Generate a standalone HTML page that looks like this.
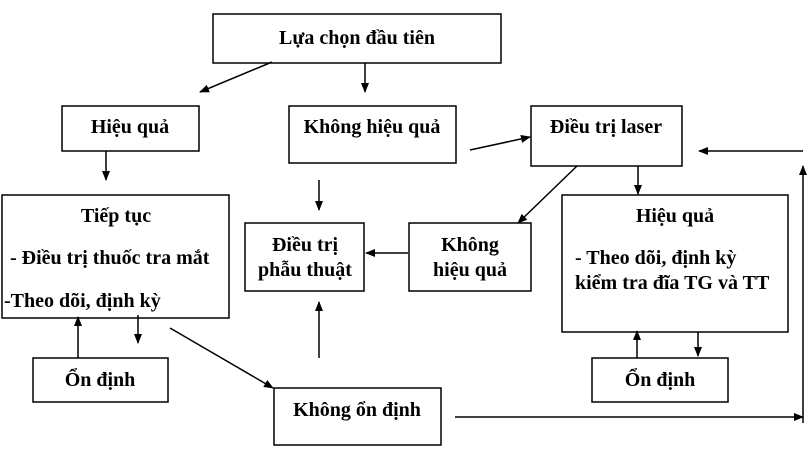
<!DOCTYPE html>
<html><head><meta charset="utf-8"><style>
body{margin:0;background:#fff}
svg text{font-family:"Liberation Serif",serif;font-weight:bold;font-size:20px;fill:#000}
</style></head><body>
<svg width="810" height="449" viewBox="0 0 810 449" xmlns="http://www.w3.org/2000/svg">
<defs><marker id="a" markerWidth="10" markerHeight="8" refX="9" refY="4" orient="auto" markerUnits="userSpaceOnUse"><path d="M0,0 L10,4 L0,8 z" fill="#000"/></marker></defs>
<g fill="none" stroke="#000" stroke-width="1.5">
<rect x="213" y="14" width="288" height="49"/>
<rect x="62" y="106" width="137" height="45"/>
<rect x="289" y="106" width="167" height="57"/>
<rect x="531" y="106" width="151" height="60"/>
<rect x="2" y="195" width="227" height="123"/>
<rect x="245" y="223" width="119" height="68"/>
<rect x="409" y="223" width="122" height="68"/>
<rect x="562" y="195" width="226" height="137"/>
<rect x="33" y="358" width="135" height="44"/>
<rect x="592" y="358" width="136" height="44"/>
<rect x="274" y="388" width="167" height="57"/>
</g>
<g stroke="#000" stroke-width="1.5" marker-end="url(#a)">
<line x1="272" y1="62" x2="200" y2="92"/>
<line x1="365" y1="63" x2="365" y2="92"/>
<line x1="106" y1="151" x2="106" y2="180"/>
<line x1="319" y1="180" x2="319" y2="210"/>
<line x1="470" y1="150" x2="530" y2="137"/>
<line x1="638" y1="166" x2="638" y2="194"/>
<line x1="577" y1="166" x2="518" y2="223"/>
<line x1="803" y1="151" x2="699" y2="151"/>
<line x1="803" y1="423" x2="803" y2="166"/>
<line x1="455" y1="417" x2="803" y2="417"/>
<line x1="408" y1="253" x2="366" y2="253"/>
<line x1="319" y1="358" x2="319" y2="302"/>
<line x1="78" y1="358" x2="78" y2="317"/>
<line x1="138" y1="315" x2="138" y2="343"/>
<line x1="170" y1="328" x2="273" y2="388"/>
<line x1="637" y1="358" x2="637" y2="331"/>
<line x1="698" y1="332" x2="698" y2="356"/>
</g>
<text x="357" y="44" text-anchor="middle">Lựa chọn đầu tiên</text>
<text x="130" y="133" text-anchor="middle">Hiệu quả</text>
<text x="372" y="133" text-anchor="middle">Không hiệu quả</text>
<text x="606" y="133" text-anchor="middle">Điều trị laser</text>
<text x="116" y="222" text-anchor="middle">Tiếp tục</text>
<text x="10" y="264">- Điều trị thuốc tra mắt</text>
<text x="4" y="307">-Theo dõi, định kỳ</text>
<text x="305" y="251" text-anchor="middle">Điều trị</text>
<text x="305" y="276" text-anchor="middle">phẫu thuật</text>
<text x="470" y="251" text-anchor="middle">Không</text>
<text x="470" y="276" text-anchor="middle">hiệu quả</text>
<text x="675" y="222" text-anchor="middle">Hiệu quả</text>
<text x="575" y="264">- Theo dõi, định kỳ</text>
<text x="575" y="289">kiểm tra đĩa TG và TT</text>
<text x="100" y="386" text-anchor="middle">Ổn định</text>
<text x="660" y="386" text-anchor="middle">Ổn định</text>
<text x="357" y="416" text-anchor="middle">Không ổn định</text>
</svg>
</body></html>
